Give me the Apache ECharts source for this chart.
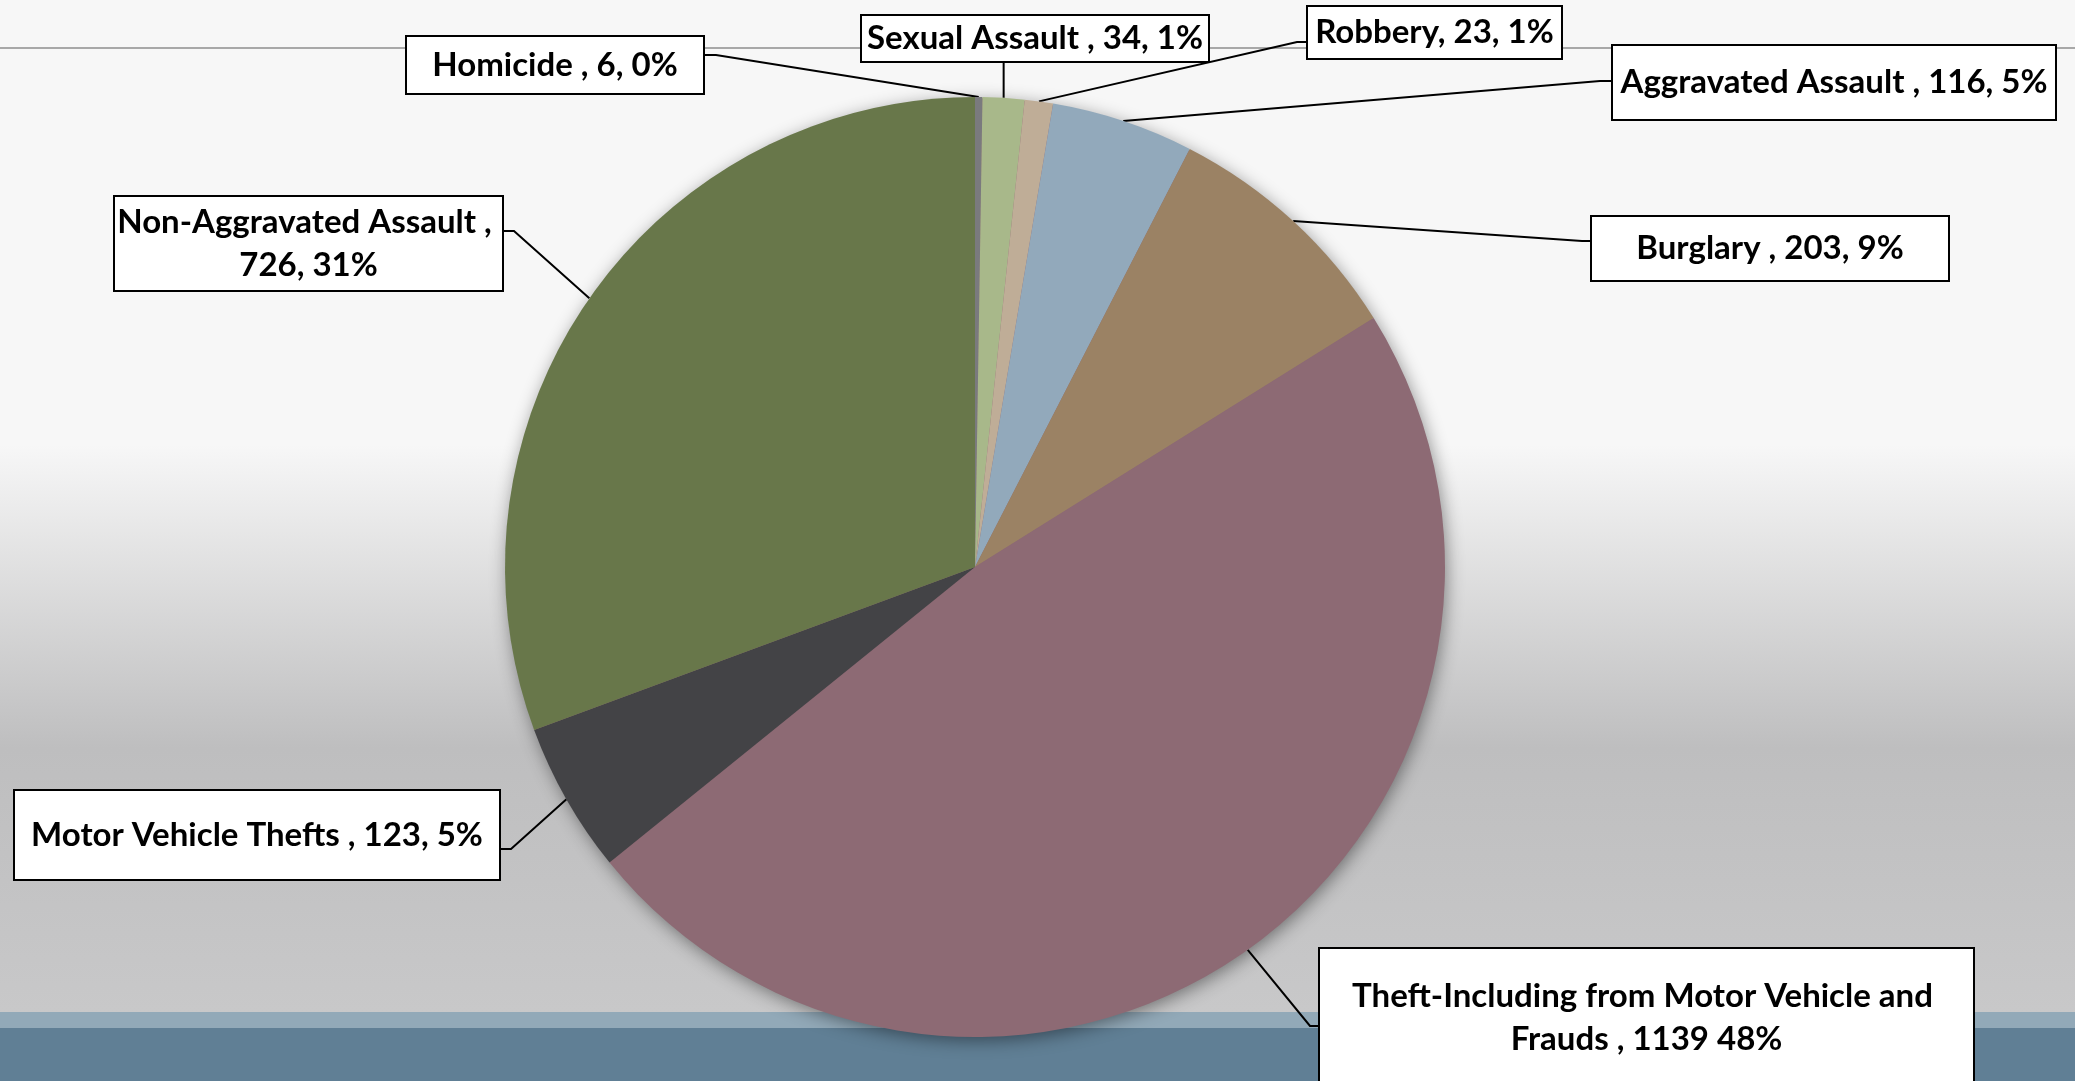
<!DOCTYPE html>
<html>
<head>
<meta charset="utf-8">
<script src="https://cdn.jsdelivr.net/npm/echarts@6/dist/echarts.min.js"></script>
<style>
  html, body { margin: 0; padding: 0; }
  body {
    width: 2075px; height: 1081px; overflow: hidden;
    background: linear-gradient(to bottom,
      #f7f7f7 0px, #f7f7f7 445px, #bebebf 748px, #c8c8c9 1012px,
      #92a9b8 1012px, #92a9b8 1028px, #607f95 1028px, #607f95 100%);
  }
  #chart { width: 2075px; height: 1081px; }
</style>
</head>
<body>
<div id="chart"></div>
<script>
// Offences by category (count), clockwise from 12 o'clock
const categories = [
  'Homicide ',
  'Sexual Assault ',
  'Robbery',
  'Aggravated Assault ',
  'Burglary ',
  'Theft-Including from Motor Vehicle and Frauds ',
  'Motor Vehicle Thefts ',
  'Non-Aggravated Assault '
];
const counts = [6, 34, 23, 116, 203, 1139, 123, 726];
// separator printed between the count and the percentage
const pctSeparators = [', ', ', ', ', ', ', ', ', ', ' ', ', ', ', '];
const sliceColors = ['#7a7a7e', '#a8b88a', '#bfad97', '#92a9bb', '#9b8264', '#8d6a74', '#434346', '#68774a'];

// Callout boxes: left/top/width/height, which side the leader joins, join height, elbow length
const PIE_CENTER = [975, 567];
const PIE_RADIUS = 470;
const LINE_H = 43;
const calloutBoxes = [
  { l: 407,  t: 37,  w: 296, h: 56, side: 'right',  joinY: 55,   elbow: 13, lines: 1 },
  { l: 862,  t: 16,  w: 346, h: 45, side: 'bottom', lines: 1 },
  { l: 1308, t: 7,   w: 253, h: 51, side: 'left',   joinY: 42,   elbow: 11, lines: 1 },
  { l: 1613, t: 46,  w: 442, h: 73, side: 'left',   joinY: 81,   elbow: 13, lines: 1 },
  { l: 1592, t: 217, w: 356, h: 63, side: 'left',   joinY: 241,  elbow: 10, lines: 1 },
  { l: 1320, t: 949, w: 653, h: 180, side: 'left',  joinY: 1026, elbow: 10, lines: 2, padTop: 26, padX: 20 },
  { l: 15,   t: 791, w: 484, h: 88, side: 'right',  joinY: 849,  elbow: 12, lines: 1 },
  { l: 115,  t: 197, w: 387, h: 93, side: 'right',  joinY: 231,  elbow: 12, lines: 2 }
];

const pieData = categories.map(function (name, i) {
  const b = calloutBoxes[i];
  const content = b.lines * LINE_H;
  const pt = b.padTop != null ? b.padTop : (b.h - content) / 2;
  const pb = b.h - content - pt;
  const px = b.padX || 0;
  return {
    name: name,
    value: counts[i],
    itemStyle: { color: sliceColors[i] },
    label: { width: b.w - 2 * px, padding: [pt, px, pb, px] }
  };
});

const chart = echarts.init(document.getElementById('chart'), null, { renderer: 'canvas' });

chart.setOption({
  backgroundColor: 'transparent',
  animation: false,
  graphic: [
    {
      type: 'line', z: 0, silent: true,
      shape: { x1: 0, y1: 48, x2: 2075, y2: 48 },
      style: { stroke: '#a8a8a8', lineWidth: 2 }
    },
    {
      // soft drop shadow behind the pie
      type: 'circle', z: 0, silent: true,
      shape: { cx: PIE_CENTER[0], cy: PIE_CENTER[1], r: PIE_RADIUS - 1 },
      style: {
        fill: '#8d6a74',
        shadowBlur: 18, shadowColor: 'rgba(0,0,0,0.45)',
        shadowOffsetX: 2, shadowOffsetY: 4
      }
    }
  ],
  series: [{
    type: 'pie',
    z: 2,
    silent: true,
    center: PIE_CENTER,
    radius: PIE_RADIUS,
    startAngle: 90,
    clockwise: true,
    avoidLabelOverlap: false,
    itemStyle: { borderWidth: 0 },
    emphasis: { disabled: true },
    data: pieData,
    label: {
      show: true,
      position: 'outside',
      color: '#000',
      fontFamily: 'Lato, "Open Sans", sans-serif',
      fontWeight: 'bold',
      fontSize: 33,
      lineHeight: LINE_H,
      backgroundColor: '#ffffff',
      borderColor: '#000000',
      borderWidth: 2,
      overflow: 'break',
      formatter: function (p) {
        return p.name + ', ' + p.value + pctSeparators[p.dataIndex] + Math.round(p.percent) + '%';
      }
    },
    labelLine: {
      show: true,
      length: 10,
      length2: 10,
      lineStyle: { color: '#000', width: 2 }
    },
    labelLayout: function (p) {
      const b = calloutBoxes[p.dataIndex];
      const a = p.labelLinePoints[0];
      let pts;
      if (b.side === 'bottom') {
        pts = [a, [a[0], b.t + b.h]];
      } else {
        const edgeX = b.side === 'left' ? b.l : b.l + b.w;
        const elbowX = b.side === 'left' ? edgeX - b.elbow : edgeX + b.elbow;
        pts = [a, [elbowX, b.joinY], [edgeX, b.joinY]];
      }
      return {
        x: b.l + b.w / 2,
        y: b.t,
        align: 'center',
        verticalAlign: 'top',
        hideOverlap: false,
        labelLinePoints: pts
      };
    }
  }]
});
</script>
</body>
</html>
